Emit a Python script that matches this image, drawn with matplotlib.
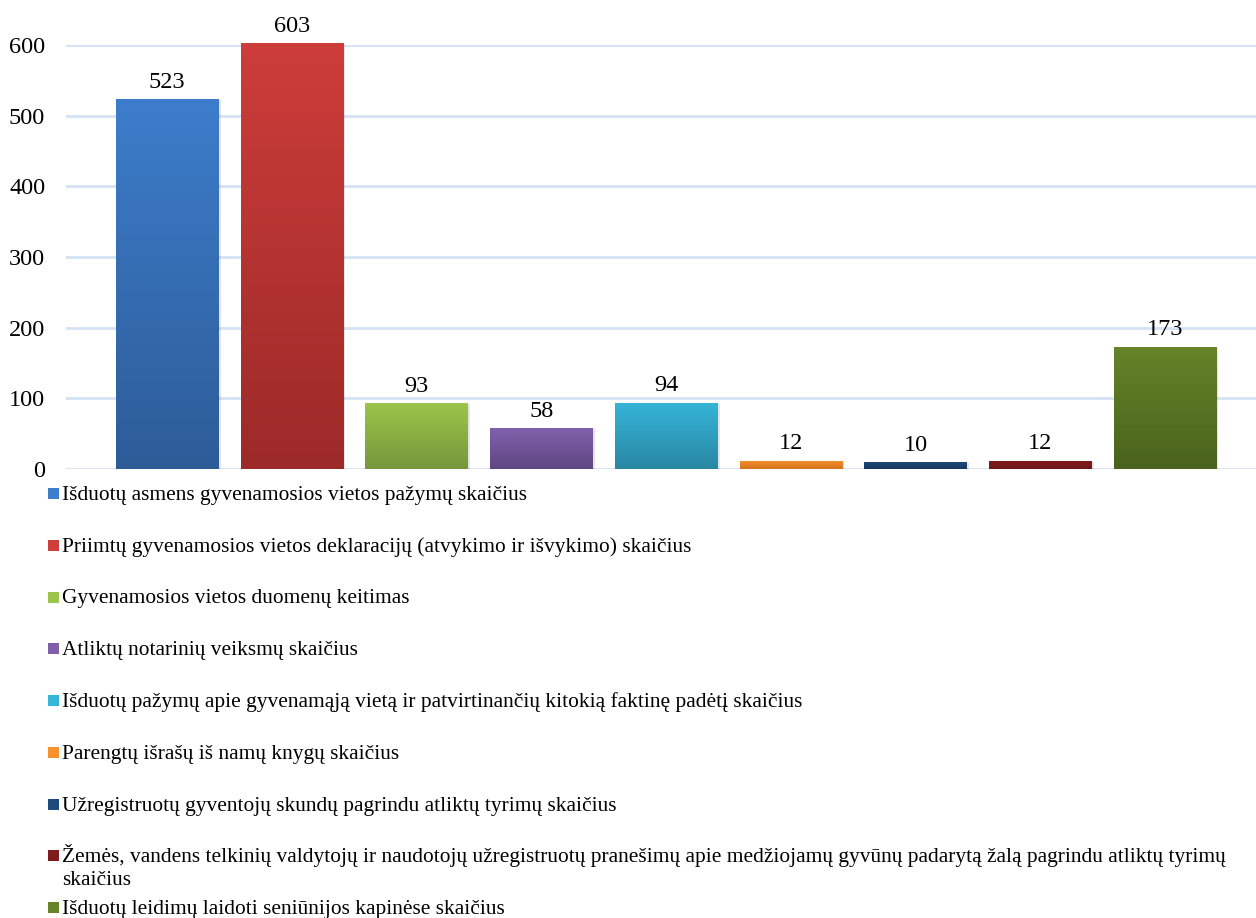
import numpy as np
import matplotlib.pyplot as plt
from matplotlib.colors import LinearSegmentedColormap
from matplotlib.patches import Rectangle

plt.rcParams['font.family'] = ['Liberation Serif', 'DejaVu Serif']

# duomenys
kategorijos = [
    'Išduotų asmens gyvenamosios vietos pažymų skaičius',
    'Priimtų gyvenamosios vietos deklaracijų (atvykimo ir išvykimo) skaičius',
    'Gyvenamosios vietos duomenų keitimas',
    'Atliktų notarinių veiksmų skaičius',
    'Išduotų pažymų apie gyvenamąją vietą ir patvirtinančių kitokią faktinę padėtį skaičius',
    'Parengtų išrašų iš namų knygų skaičius',
    'Užregistruotų gyventojų skundų pagrindu atliktų tyrimų skaičius',
    'Žemės, vandens telkinių valdytojų ir naudotojų užregistruotų pranešimų apie medžiojamų gyvūnų padarytą žalą pagrindu atliktų tyrimų\nskaičius',
    'Išduotų leidimų laidoti seniūnijos kapinėse skaičius',
]
reiksmes = [523, 603, 93, 58, 94, 12, 10, 12, 173]
spalvos_virsus = ['#3d7dcb', '#cd3d3a', '#9cc44b', '#8060ab', '#35b5d8', '#f8912e', '#1f4a7e', '#7e1c1c', '#668429']
spalvos_apacia = ['#2d5c98', '#9c2a29', '#76973a', '#5f4682', '#2987a3', '#d2731d', '#173a63', '#701818', '#4a621c']

W, H = 1256, 918
fig = plt.figure(figsize=(W / 100, H / 100), dpi=100)
ax = fig.add_axes([66 / W, 1 - 469 / H, 1 - 66 / W, (469 - 45) / H])

x = np.arange(len(reiksmes))
bars = ax.bar(x, reiksmes, width=0.818, color='none', zorder=3)

grad = np.linspace(0, 1, 256).reshape(-1, 1)
for b, c1, c2 in zip(bars, spalvos_virsus, spalvos_apacia):
    cmap = LinearSegmentedColormap.from_list('g', [c2, c1])
    x0, y0 = b.get_x(), b.get_y()
    w, h = b.get_width(), b.get_height()
    # seselis
    ax.add_patch(Rectangle((x0 + 0.02, y0), w, h - 1.5, color='#000000', alpha=0.10, zorder=2, lw=0))
    im = ax.imshow(grad, cmap=cmap, origin='lower', extent=[x0, x0 + w, y0, y0 + h],
                   aspect='auto', zorder=3)
    im.set_clip_path(b)

for xi, v in zip(x, reiksmes):
    ax.text(xi, v + 9, str(v), ha='center', va='bottom', fontsize=17.5, zorder=4)

ax.set_xlim(-0.81, 8.73)
ax.set_ylim(0, 600)
ax.set_yticks(range(0, 601, 100))
ax.tick_params(axis='y', length=0, labelsize=17.5, pad=15)
ax.set_xticks([])
ax.yaxis.grid(True, color='#d5e2f3', lw=2, zorder=0)
for s in ax.spines.values():
    s.set_visible(False)

# legenda
bazine = 500
tarpas = 51.75
eilute = 23
for i, (kat, c1) in enumerate(zip(kategorijos, spalvos_virsus)):
    yb = bazine + i * tarpas
    fig.patches.append(Rectangle((48 / W, 1 - (yb - 1) / H), 11 / W, 11 / H,
                                 transform=fig.transFigure, color=c1, lw=0))
    for j, dalis in enumerate(kat.split('\n')):
        fig.text(62 / W, 1 - (yb + j * eilute) / H, dalis, ha='left', va='baseline',
                 fontsize=15.4)

fig.savefig('out.png', dpi=100)
